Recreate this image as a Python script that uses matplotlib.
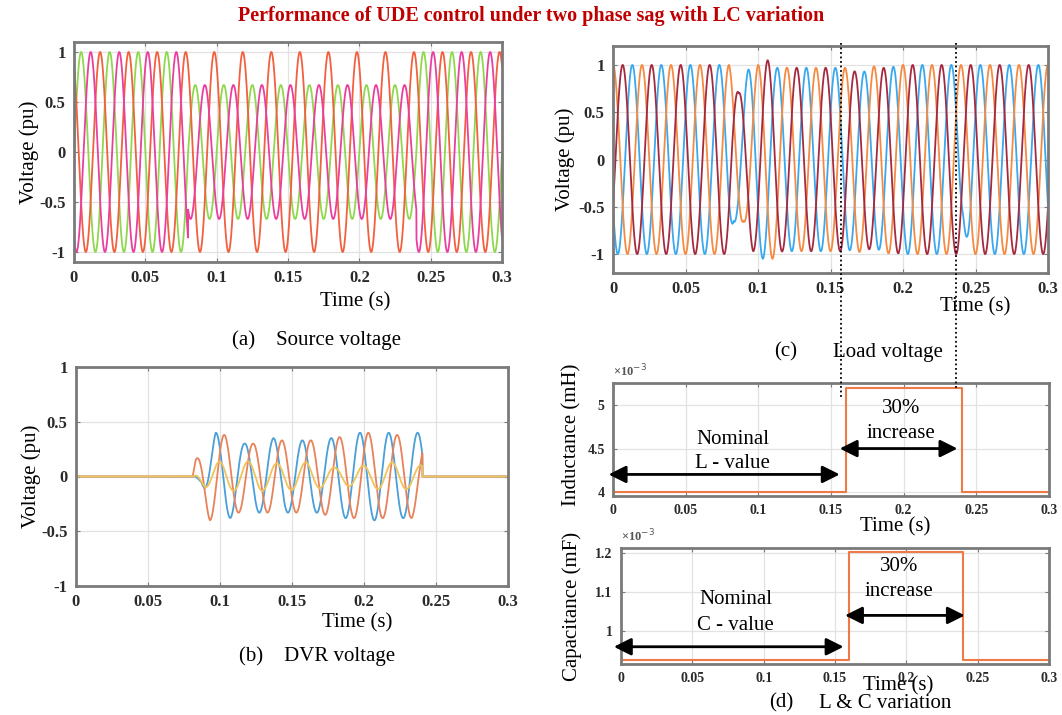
import numpy as np
import matplotlib.pyplot as plt
from matplotlib.transforms import blended_transform_factory

plt.rcParams['font.family'] = ['Liberation Serif', 'DejaVu Serif']
plt.rcParams['axes.unicode_minus'] = False

W, H = 1062, 715
freq = 50.0
t = np.linspace(0, 0.3, 9001)

# (a) source voltage: time of a peak, amplitude envelope knots
src_colors = ['#8fd84e', '#f2603f', '#ea3f9e']
src_peak = [0.005, 0.0183, 0.0117]
src_env_t = [[0, 0.08, 0.08, 0.24, 0.24, 0.3],
             [0, 0.3],
             [0, 0.08, 0.08, 0.24, 0.24, 0.3]]
src_env_a = [[1, 1, 0.67, 0.67, 1, 1],
             [1, 1],
             [1, 1, 0.67, 0.67, 1, 1]]

# (b) DVR voltage
dvr_colors = ['#4a9fd8', '#e8825a', '#f0c35a']
dvr_peak = [0.0172, 0.003, 0.0195]
dvr_env_t = [[0, 0.082, 0.087, 0.097, 0.107, 0.117, 0.127, 0.137, 0.147, 0.157, 0.167,
              0.177, 0.187, 0.197, 0.207, 0.217, 0.227, 0.237, 0.2405, 0.2406, 0.3],
             [0, 0.081, 0.083, 0.093, 0.103, 0.113, 0.123, 0.133, 0.143, 0.153, 0.163,
              0.173, 0.183, 0.193, 0.203, 0.213, 0.223, 0.233, 0.2405, 0.2406, 0.3],
             [0, 0.0815, 0.09, 0.1, 0.11, 0.12, 0.14, 0.16, 0.18, 0.2, 0.22, 0.24, 0.2405,
              0.2406, 0.3]]
dvr_env_a = [[0, 0, 0.05, 0.4, 0.38, 0.3, 0.33, 0.35, 0.33, 0.33, 0.33,
              0.35, 0.38, 0.4, 0.4, 0.4, 0.38, 0.4, 0.4, 0, 0],
             [0, 0, 0.15, 0.4, 0.38, 0.33, 0.3, 0.33, 0.33, 0.33, 0.33,
              0.35, 0.36, 0.38, 0.4, 0.38, 0.38, 0.38, 0.3, 0, 0],
             [0, 0, 0.1, 0.14, 0.13, 0.14, 0.12, 0.13, 0.08, 0.1, 0.13, 0.1, 0.1,
              0, 0]]

# (c) load voltage
load_colors = ['#3aa8ee', '#f58a42', '#a52a40']
load_peak = [0.01333, 0.0, 0.00667]
load_env_t = [[0, 0.078, 0.0833, 0.0933, 0.1033, 0.113, 0.16, 0.173, 0.19, 0.2, 0.237,
               0.2415, 0.247, 0.3],
              [0, 0.08, 0.09, 0.1, 0.11, 0.12, 0.16, 0.2, 0.3],
              [0, 0.08, 0.0867, 0.0967, 0.1067, 0.117, 0.16, 0.167, 0.187, 0.2, 0.3]]
load_env_a = [[1, 1, 0.65, 0.95, 1.05, 0.97, 0.97, 0.93, 0.97, 1, 1, 0.7, 1, 1],
              [1, 1, 0.65, 1.0, 1.05, 0.97, 0.97, 1, 1],
              [1, 1, 0.7, 0.97, 1.05, 0.97, 0.97, 0.93, 0.97, 1, 1]]

# (d) L and C variation
lc_t = [0, 0.16, 0.16, 0.24, 0.24, 0.3]
ind_val = [4.0e-3, 4.0e-3, 5.2e-3, 5.2e-3, 4.0e-3, 4.0e-3]
cap_val = [0.925e-3, 0.925e-3, 1.2025e-3, 1.2025e-3, 0.925e-3, 0.925e-3]
event_lines = [0.157, 0.2365]

x_ticks = [0, 0.05, 0.1, 0.15, 0.2, 0.25, 0.3]
x_labels = ['0', '0.05', '0.1', '0.15', '0.2', '0.25', '0.3']
v_ticks = [-1, -0.5, 0, 0.5, 1]
v_labels = ['-1', '-0.5', '0', '0.5', '1']
ind_ticks = [4e-3, 4.5e-3, 5e-3]
ind_labels = ['4', '4.5', '5']
cap_ticks = [1.0e-3, 1.1e-3, 1.2e-3]
cap_labels = ['1', '1.1', '1.2']


def wave(peak, env_t, env_a):
    return np.interp(t, env_t, env_a) * np.cos(2 * np.pi * freq * (t - peak))


def px_axes(fig, left, top, right, bottom):
    return fig.add_axes([left / W, 1 - bottom / H, (right - left) / W, (bottom - top) / H])


def style(ax, yt, yl, fs=12):
    ax.set_xlim(0, 0.3)
    ax.set_xticks(x_ticks)
    ax.set_xticklabels(x_labels)
    ax.set_yticks(yt)
    ax.set_yticklabels(yl)
    ax.grid(True, color='#e2e2e2', lw=0.9)
    ax.set_axisbelow(True)
    for s in ax.spines.values():
        s.set_color('#7a7a7a')
        s.set_linewidth(2)
    ax.tick_params(direction='in', top=True, right=True, length=3, color='#7a7a7a',
                   labelsize=fs, labelcolor='#2a2a2a', pad=6)
    for lab in ax.get_xticklabels() + ax.get_yticklabels():
        lab.set_fontweight('bold')


def ftext(fig, x, y, s, **kw):
    fig.text(x / W, 1 - y / H, s, ha='center', va='center', **kw)


fig = plt.figure(figsize=(W / 100, H / 100), dpi=100)
fig.patch.set_facecolor('white')

ftext(fig, 531, 16, 'Performance of UDE control under two phase sag with LC variation',
      fontsize=14.5, fontweight='bold', color='#c00000')

# (a)
ax_a = px_axes(fig, 74, 42, 502, 262)
for c, p, et, ea in zip(src_colors, src_peak, src_env_t, src_env_a):
    ax_a.plot(t, wave(p, et, ea), color=c, lw=1.3)
ax_a.set_ylim(-1.1, 1.1)
style(ax_a, v_ticks, v_labels)
ax_a.set_ylabel('Voltage (pu)', fontsize=15, labelpad=0)
ftext(fig, 355, 302, 'Time (s)', fontsize=15)
ftext(fig, 317, 340, '(a)    Source voltage', fontsize=15)

# (b)
ax_b = px_axes(fig, 76, 367, 508, 586)
for c, p, et, ea in zip(dvr_colors, dvr_peak, dvr_env_t, dvr_env_a):
    ax_b.plot(t, wave(p, et, ea), color=c, lw=1.3)
ax_b.set_ylim(-1, 1)
style(ax_b, v_ticks, v_labels)
ax_b.set_ylabel('Voltage (pu)', fontsize=15, labelpad=0)
ftext(fig, 357, 623, 'Time (s)', fontsize=15)
ftext(fig, 317, 656, '(b)    DVR voltage', fontsize=15)

# (c)
ax_c = px_axes(fig, 613, 46, 1048, 273)
for c, p, et, ea in zip(load_colors, load_peak, load_env_t, load_env_a):
    ax_c.plot(t, wave(p, et, ea), color=c, lw=1.3)
ax_c.set_ylim(-1.2, 1.2)
style(ax_c, v_ticks, v_labels)
ax_c.set_ylabel('Voltage (pu)', fontsize=15, labelpad=2)
ftext(fig, 975, 307, 'Time (s)', fontsize=15)
ftext(fig, 786, 352, '(c)', fontsize=15)
ftext(fig, 888, 352, 'Load voltage', fontsize=15)

# (d) inductance
ax_l = px_axes(fig, 613, 383, 1049, 496)
ax_l.plot(lc_t, ind_val, color='#f07a45', lw=1.5)
ax_l.set_ylim(3.95e-3, 5.26e-3)
style(ax_l, ind_ticks, ind_labels, fs=10)
ax_l.text(0.0, 1.03, '×10$^{-3}$', transform=ax_l.transAxes, fontsize=9,
          fontweight='bold', color='#555555', va='bottom')
ftext(fig, 895, 527, 'Time (s)', fontsize=15)
fig.text(572 / W, 1 - 435 / H, 'Inductance (mH)', rotation=90, ha='center', va='center',
         fontsize=15)

arrow = dict(arrowstyle='<|-|>', color='black', lw=2, mutation_scale=26, shrinkA=0, shrinkB=0)
ax_l.annotate('', xy=(-0.003, 4.2e-3), xytext=(0.156, 4.2e-3), arrowprops=arrow,
              annotation_clip=False)
ax_l.annotate('', xy=(0.156, 4.5e-3), xytext=(0.237, 4.5e-3), arrowprops=arrow,
              annotation_clip=False)
ax_l.text(0.0825, 4.6e-3, 'Nominal', ha='center', va='center', fontsize=15)
ax_l.text(0.0825, 4.33e-3, 'L - value', ha='center', va='center', fontsize=15)
ax_l.text(0.198, 4.97e-3, '30%', ha='center', va='center', fontsize=15)
ax_l.text(0.198, 4.68e-3, 'increase', ha='center', va='center', fontsize=15)

# (d) capacitance
ax_cap = px_axes(fig, 621, 548, 1049, 664)
ax_cap.plot(lc_t, cap_val, color='#f07a45', lw=1.5)
ax_cap.set_ylim(0.916e-3, 1.212e-3)
style(ax_cap, cap_ticks, cap_labels, fs=10)
ax_cap.text(0.0, 1.03, '×10$^{-3}$', transform=ax_cap.transAxes, fontsize=9,
            fontweight='bold', color='#555555', va='bottom')
ftext(fig, 898, 686, 'Time (s)', fontsize=15)
fig.text(572 / W, 1 - 606 / H, 'Capacitance (mF)', rotation=90, ha='center', va='center',
         fontsize=15)
ax_cap.annotate('', xy=(-0.005, 0.96e-3), xytext=(0.156, 0.96e-3), arrowprops=arrow,
                annotation_clip=False)
ax_cap.annotate('', xy=(0.157, 1.04e-3), xytext=(0.241, 1.04e-3), arrowprops=arrow,
                annotation_clip=False)
ax_cap.text(0.0805, 1.08e-3, 'Nominal', ha='center', va='center', fontsize=15)
ax_cap.text(0.0805, 1.015e-3, 'C - value', ha='center', va='center', fontsize=15)
ax_cap.text(0.195, 1.165e-3, '30%', ha='center', va='center', fontsize=15)
ax_cap.text(0.195, 1.1e-3, 'increase', ha='center', va='center', fontsize=15)
ftext(fig, 781, 703, '(d)', fontsize=15)
ftext(fig, 885, 703, 'L & C variation', fontsize=15)

# dotted event markers spanning load voltage and inductance panels
tr = blended_transform_factory(ax_c.transData, fig.transFigure)
for xe, yb in zip(event_lines, [397, 389]):
    fig.add_artist(plt.Line2D([xe, xe], [1 - 43 / H, 1 - yb / H], transform=tr,
                              color='black', lw=1.3, ls=(0, (1, 1.5))))

fig.savefig('out.png', dpi=100)
